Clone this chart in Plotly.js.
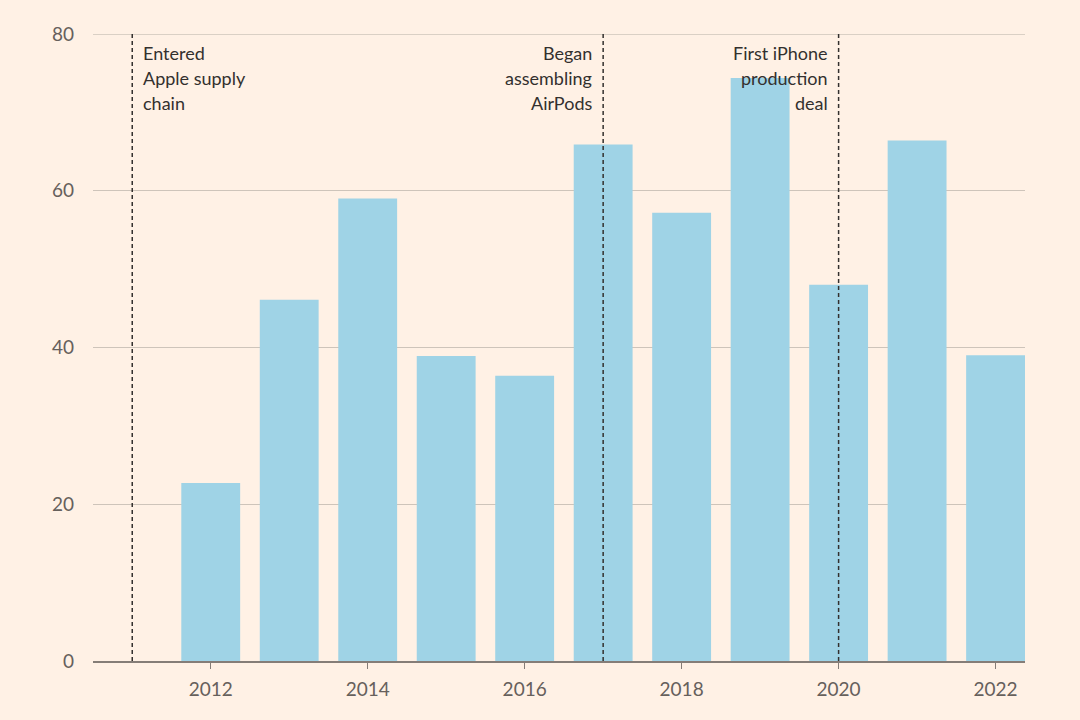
<!DOCTYPE html>
<html>
<head>
<meta charset="utf-8">
<script src="https://cdn.plot.ly/plotly-3.0.1.min.js"></script>
<style>
html,body{margin:0;padding:0;background:#FFF1E5;}
#chart{width:1080px;height:720px;}
</style>
</head>
<body>
<div id="chart"></div>
<script>
// Data
const years = [2012, 2013, 2014, 2015, 2016, 2017, 2018, 2019, 2020, 2021, 2022];
const values = [22.7, 46.1, 59.0, 38.9, 36.4, 65.9, 57.2, 74.4, 48.0, 66.4, 39.0];
const eventYears = [2011, 2017, 2020];
const eventLabels = [
  ["Entered", "Apple supply", "chain"],
  ["Began", "assembling", "AirPods"],
  ["First iPhone", "production", "deal"]
];
const eventSides = ["right", "left", "left"];
const yTicks = [0, 20, 40, 60, 80];
const xTicks = [2012, 2014, 2016, 2018, 2020, 2022];

const FONT = "Lato, 'Open Sans', sans-serif";
const TEXT = "#33302E";
const TICK = "#66605C";
const yTop = yTicks[yTicks.length - 1];

const trace = {
  type: "bar",
  x: years,
  y: values,
  width: 0.75,
  marker: {color: "#9FD3E6", line: {width: 0}},
  hoverinfo: "x+y"
};

const shapes = eventYears.map(yr => ({
  type: "line", xref: "x", yref: "paper",
  x0: yr, x1: yr, y0: 0, y1: 1,
  line: {color: "#33302E", width: 1.5, dash: "4px,3px"},
  layer: "above"
}));
// top gridline (at the edge of the range)
shapes.push({
  type: "line", xref: "paper", yref: "y",
  x0: 0, x1: 1, y0: yTop, y1: yTop,
  line: {color: "#CEC4BA", width: 1.5},
  layer: "below"
});

const annotations = [];
eventYears.forEach((yr, i) => {
  eventLabels[i].forEach((line, j) => {
    const right = eventSides[i] === "right";
    annotations.push({
      x: yr, y: yTop, xref: "x", yref: "y",
      text: line, showarrow: false,
      xanchor: right ? "left" : "right",
      yanchor: "middle",
      xshift: right ? 9 : -9,
      yshift: -19 - 25 * j,
      font: {family: FONT, size: 18, color: TEXT},
      align: right ? "left" : "right"
    });
  });
});

const layout = {
  width: 1080, height: 720,
  paper_bgcolor: "#FFF1E5",
  plot_bgcolor: "#FFF1E5",
  margin: {l: 93, r: 55, t: 34, b: 59},
  showlegend: false,
  xaxis: {
    range: [2010.5, 2022.375],
    tickvals: xTicks,
    ticktext: xTicks.map(String),
    showgrid: false,
    zeroline: false,
    showline: true,
    linecolor: "#857D77",
    linewidth: 1.5,
    ticks: "outside",
    ticklen: 6,
    tickwidth: 1.5,
    tickcolor: "#857D77",
    ticklabelstandoff: 5,
    tickfont: {family: FONT, size: 19, color: TICK},
    fixedrange: true
  },
  yaxis: {
    range: [0, yTop],
    tickvals: yTicks,
    ticktext: yTicks.map(String),
    showgrid: true,
    gridcolor: "#CEC4BA",
    gridwidth: 1.2,
    zeroline: false,
    showline: false,
    ticks: "",
    ticklabelstandoff: 18,
    tickfont: {family: FONT, size: 19, color: TICK},
    fixedrange: true
  },
  shapes: shapes,
  annotations: annotations
};

Plotly.newPlot("chart", [trace], layout, {displayModeBar: false, staticPlot: true});
</script>
</body>
</html>
